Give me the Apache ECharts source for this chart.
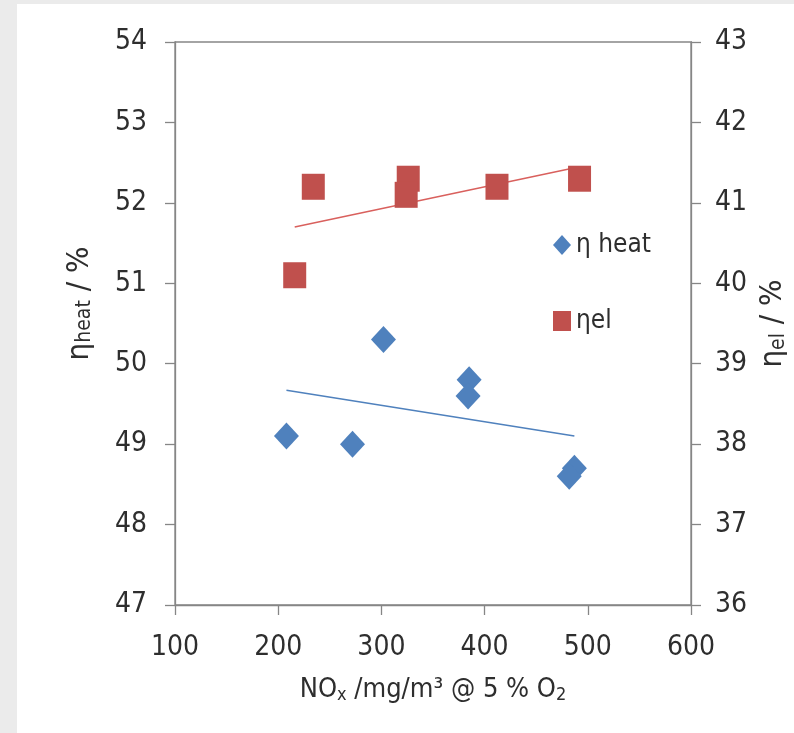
<!DOCTYPE html>
<html lang="en">
<head>
<meta charset="UTF-8">
<title>eta vs NOx</title>
<script src="https://cdn.jsdelivr.net/npm/echarts@6/dist/echarts.min.js"></script>
<style>
  html, body { margin: 0; padding: 0; background: #ebebeb; overflow: hidden; }
  #chart { position: absolute; left: 17px; top: 4px; width: 777px; height: 729px; background: #fff; }
</style>
</head>
<body>
<div id="chart"></div>
<script>
// values
var heatNox = [208, 272, 302, 385, 384, 487, 482];
var heatEta = [49.1, 49.0, 50.3, 49.8, 49.6, 48.7, 48.6];
var elNox = [216, 234, 326, 324, 412, 492];
var elEta = [40.1, 41.2, 41.3, 41.1, 41.2, 41.3];
// trendline end points
var heatTrendX = [208, 487];
var heatTrendY = [49.67, 49.1];
var elTrendX = [216, 492];
var elTrendY = [40.7, 41.45];
// axis ranges [min, max, step]
var noxAxis = [100, 600, 100];
var heatAxis = [47, 54, 1];
var elAxis = [36, 43, 1];

var FONT = "'Liberation Sans Narrow', 'DejaVu Sans Condensed', sans-serif";
var AXIS_COLOR = '#868686';
var TEXT_COLOR = '#2e2e2e';
var BLUE = '#4f81bd';
var RED = '#c0504d';

function pairs(xs, ys) {
	var out = [];
	for (var i = 0; i < xs.length; i++) {
		out.push([xs[i], ys[i]]);
	}
	return out;
}

function yAxisBase(range, pos, gap, name, pad) {
	return {
		type: 'value',
		position: pos,
		min: range[0],
		max: range[1],
		interval: range[2],
		splitLine: {show: false},
		axisLine: {show: true, lineStyle: {color: AXIS_COLOR, width: 1.3}},
		axisTick: {show: true, length: 10, lineStyle: {color: AXIS_COLOR, width: 1.3}},
		axisLabel: {margin: pos == 'left' ? 28 : 24, fontSize: 28, fontFamily: FONT, color: TEXT_COLOR},
		name: name,
		nameLocation: 'middle',
		nameGap: gap,
		nameTextStyle: {
			fontSize: 31, fontFamily: FONT, color: TEXT_COLOR,
			padding: pad,
			rich: {
				s: {fontSize: 21, fontFamily: FONT, color: TEXT_COLOR, padding: [10, 0, 0, 0]}
			}
		}
	};
}

var chart = echarts.init(document.getElementById('chart'));

var option = {
	animation: false,
	textStyle: {fontFamily: FONT},
	grid: {
		left: 158, right: 103, top: 38, bottom: 128,
		outerBoundsMode: 'none',
		containLabel: false,
		show: true, borderColor: AXIS_COLOR, borderWidth: 1.3
	},
	legend: {
		orient: 'vertical',
		left: 531,
		top: 223,
		itemGap: 50,
		itemWidth: 18,
		itemHeight: 20,
		textStyle: {fontSize: 26, fontFamily: FONT, color: TEXT_COLOR},
		data: [
			{name: 'η heat', icon: 'diamond'},
			{name: 'ηel', icon: 'rect'}
		]
	},
	xAxis: {
		type: 'value',
		min: noxAxis[0],
		max: noxAxis[1],
		interval: noxAxis[2],
		splitLine: {show: false},
		axisLine: {lineStyle: {color: AXIS_COLOR, width: 1.3}},
		axisTick: {length: 10, lineStyle: {color: AXIS_COLOR, width: 1.3}},
		axisLabel: {margin: 29, fontSize: 28, fontFamily: FONT, color: TEXT_COLOR},
		name: 'NO{s|x} /mg/m³ @ 5 % O{s|2}',
		nameLocation: 'middle',
		nameGap: 71,
		nameTextStyle: {
			fontSize: 27, fontFamily: FONT, color: TEXT_COLOR,
			rich: {
				s: {fontSize: 18, fontFamily: FONT, color: TEXT_COLOR, padding: [10, 0, 0, 0]}
			}
		}
	},
	yAxis: [
		yAxisBase(heatAxis, 'left', 80, 'η{s|heat} / %', [0, 0, 0, 40]),
		yAxisBase(elAxis, 'right', 66, 'η{s|el} / %', 0)
	],
	series: [
		{
			name: 'heat trend',
			type: 'line',
			yAxisIndex: 0,
			z: 1,
			symbol: 'none',
			lineStyle: {color: BLUE, width: 1.5},
			data: pairs(heatTrendX, heatTrendY)
		},
		{
			name: 'el trend',
			type: 'line',
			yAxisIndex: 1,
			z: 1,
			symbol: 'none',
			lineStyle: {color: '#d9605d', width: 1.5},
			data: pairs(elTrendX, elTrendY)
		},
		{
			name: 'η heat',
			type: 'scatter',
			yAxisIndex: 0,
			z: 3,
			symbol: 'diamond',
			symbolSize: [25, 27],
			itemStyle: {color: BLUE, opacity: 1},
			data: pairs(heatNox, heatEta)
		},
		{
			name: 'ηel',
			type: 'scatter',
			yAxisIndex: 1,
			z: 3,
			symbol: 'rect',
			symbolSize: [23, 26],
			itemStyle: {color: RED, opacity: 1},
			data: pairs(elNox, elEta)
		}
	]
};

chart.setOption(option);
</script>
</body>
</html>
